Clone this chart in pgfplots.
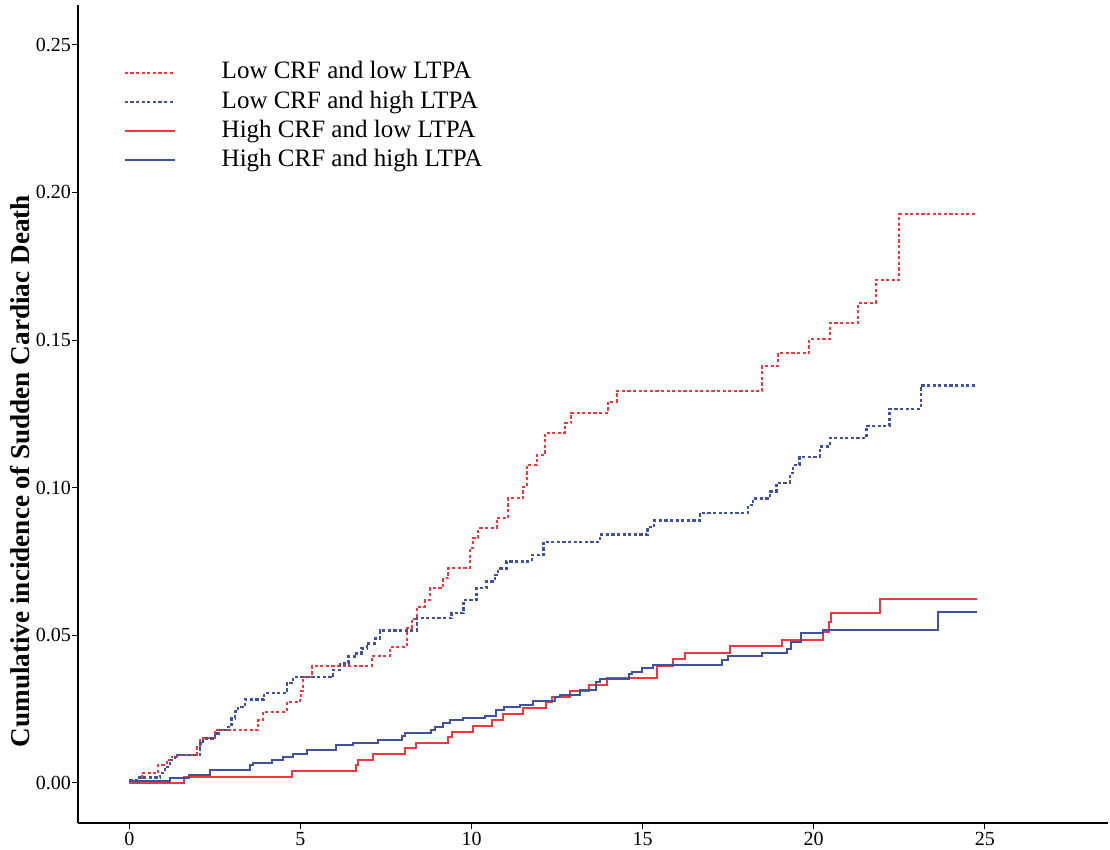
\documentclass[border=0pt]{standalone}
\usepackage{fontspec}
\setmainfont{Liberation Serif}
\usepackage{pgfplots}
\pgfplotsset{compat=1.18}
\definecolor{cred}{RGB}{240,55,60}
\definecolor{cblue}{RGB}{62,82,160}
\begin{document}
\begin{tikzpicture}
\begin{axis}[name=ax,
  scale only axis, width=515pt, height=409pt,
  xmin=-1.5, xmax=28.6, ymin=-0.01355, ymax=0.2635,
  axis x line*=bottom, axis y line*=left,
  axis line style={-, line width=0.6pt},
  tick align=outside, major tick length=2.8pt,
  tick style={line width=0.5pt, black},
  xtick={0,5,10,15,20,25}, ytick={0,0.05,0.1,0.15,0.2,0.25},
  /pgf/number format/assume math mode=true,
  ticklabel style={font=\fontsize{10}{12}\selectfont},
  yticklabel style={inner xsep=0.6pt, /pgf/number format/.cd, fixed, fixed zerofill, precision=2},
  xticklabel style={inner ysep=1.5pt, /pgf/number format/.cd, fixed, precision=0},
  ylabel={\bfseries Cumulative incidence of Sudden Cardiac Death},
  ylabel style={at={(axis description cs:-0.056,0.43)}, anchor=center, font=\fontsize{13.6}{16}\selectfont},
  legend style={draw=none, fill=none, at={(axis description cs:0.038,0.939)}, anchor=north west,
    font=\fontsize{12.5}{14}\selectfont, row sep=1pt,
    nodes={inner xsep=0pt, inner ysep=0.8pt, text height=9pt, text depth=3pt}},
  legend cell align=left,
  legend image code/.code={\draw[#1] (0pt,0pt) -- (25pt,0pt); \path[draw=none,fill=none] (0pt,0pt) -- (48.5pt,0pt);},
]
\addplot[const plot, cred, line width=1pt, dash pattern=on 1.6pt off 1.2pt] coordinates {
(0,0) (0.36,0.0033) (0.85,0.0062) (1.09,0.0078) (1.24,0.0089) (1.38,0.0095) (1.97,0.0123) (2.07,0.0151) (2.50,0.018) (3.77,0.0213) (3.91,0.0242) (4.60,0.0275) (4.99,0.0287) (5.02,0.031) (5.08,0.036) (5.34,0.0397) (7.08,0.043) (7.62,0.0462) (8.12,0.0525) (8.25,0.0555) (8.40,0.0597) (8.64,0.062) (8.78,0.066) (9.17,0.0693) (9.32,0.0727) (9.95,0.0795) (10.05,0.0829) (10.20,0.0863) (10.73,0.0897) (11.07,0.0964) (11.51,0.1004) (11.61,0.1077) (11.90,0.111) (12.14,0.1185) (12.73,0.1218) (12.92,0.1254) (13.99,0.1292) (14.24,0.1329) (18.50,0.1413) (18.96,0.1456) (19.87,0.1503) (20.47,0.1557) (21.30,0.1627) (21.81,0.1704) (22.50,0.1926) (24.76,0.1926)
};
\addlegendentry{Low CRF and low LTPA}
\addplot[const plot, cblue, line width=1.2pt, dash pattern=on 1.6pt off 1.2pt] coordinates {
(0,0.0008) (0.22,0.0018) (0.90,0.0033) (1.04,0.0055) (1.19,0.0078) (1.33,0.0095) (2.07,0.0134) (2.16,0.0151) (2.50,0.0168) (2.65,0.018) (2.89,0.019) (2.99,0.0219) (3.09,0.0242) (3.18,0.0258) (3.38,0.0283) (3.93,0.0304) (4.60,0.0338) (4.79,0.0358) (5.96,0.0383) (6.16,0.0405) (6.40,0.0428) (6.64,0.0439) (6.79,0.0456) (6.94,0.0473) (7.18,0.049) (7.32,0.0517) (8.40,0.0558) (9.42,0.0575) (9.76,0.062) (10.15,0.066) (10.44,0.0682) (10.68,0.0705) (10.78,0.0727) (11.02,0.075) (11.76,0.0772) (12.10,0.0817) (13.75,0.0841) (15.14,0.0866) (15.34,0.0889) (16.67,0.0914) (18.08,0.0942) (18.23,0.0964) (18.72,0.0987) (18.91,0.1017) (19.30,0.1049) (19.40,0.1077) (19.59,0.1105) (20.18,0.1139) (20.47,0.1168) (21.54,0.121) (22.22,0.1267) (23.13,0.1346) (24.76,0.1346)
};
\addlegendentry{Low CRF and high LTPA}
\addplot[const plot, cred, line width=1pt] coordinates {
(0,0) (1.60,0.0021) (4.74,0.0041) (6.62,0.0061) (6.69,0.0078) (7.11,0.0098) (8.05,0.0117) (8.38,0.0137) (9.32,0.0157) (9.42,0.0174) (10.05,0.0193) (10.60,0.0213) (10.93,0.0234) (11.51,0.0253) (12.19,0.0275) (12.34,0.0292) (12.89,0.0313) (13.44,0.0332) (13.95,0.0355) (15.41,0.0396) (15.89,0.0419) (16.23,0.0441) (17.55,0.0464) (19.06,0.0484) (20.28,0.0513) (20.45,0.0546) (20.50,0.0575) (21.93,0.0622) (24.76,0.0622)
};
\addlegendentry{High CRF and low LTPA}
\addplot[const plot, cblue, line width=1pt] coordinates {
(0,0.0008) (1.19,0.0018) (1.75,0.0027) (2.36,0.0044) (3.53,0.0061) (3.62,0.0069) (4.16,0.0078) (4.48,0.0087) (4.79,0.0097) (5.20,0.0111) (6.04,0.0127) (6.55,0.0137) (7.26,0.0146) (7.96,0.0158) (8.05,0.017) (8.83,0.018) (8.93,0.0189) (9.17,0.0204) (9.37,0.0213) (9.76,0.0219) (10.39,0.0228) (10.71,0.0247) (10.95,0.0256) (11.41,0.0264) (11.80,0.0279) (12.44,0.029) (12.58,0.0298) (13.17,0.0315) (13.65,0.0343) (13.75,0.0352) (14.60,0.0368) (14.68,0.0377) (14.97,0.0389) (15.31,0.0398) (17.31,0.0417) (17.50,0.043) (18.48,0.0441) (19.21,0.0453) (19.35,0.0479) (19.64,0.0507) (20.28,0.0518) (23.64,0.058) (24.76,0.058)
};
\addlegendentry{High CRF and high LTPA}
\end{axis}
\pgfresetboundingbox
\path (ax.south west) ++(-39pt,-13.5pt) coordinate (bbl);
\path (ax.north east) ++(1pt,2.5pt) coordinate (bbr);
\path[use as bounding box] (bbl) rectangle (bbr);
\end{tikzpicture}
\end{document}
